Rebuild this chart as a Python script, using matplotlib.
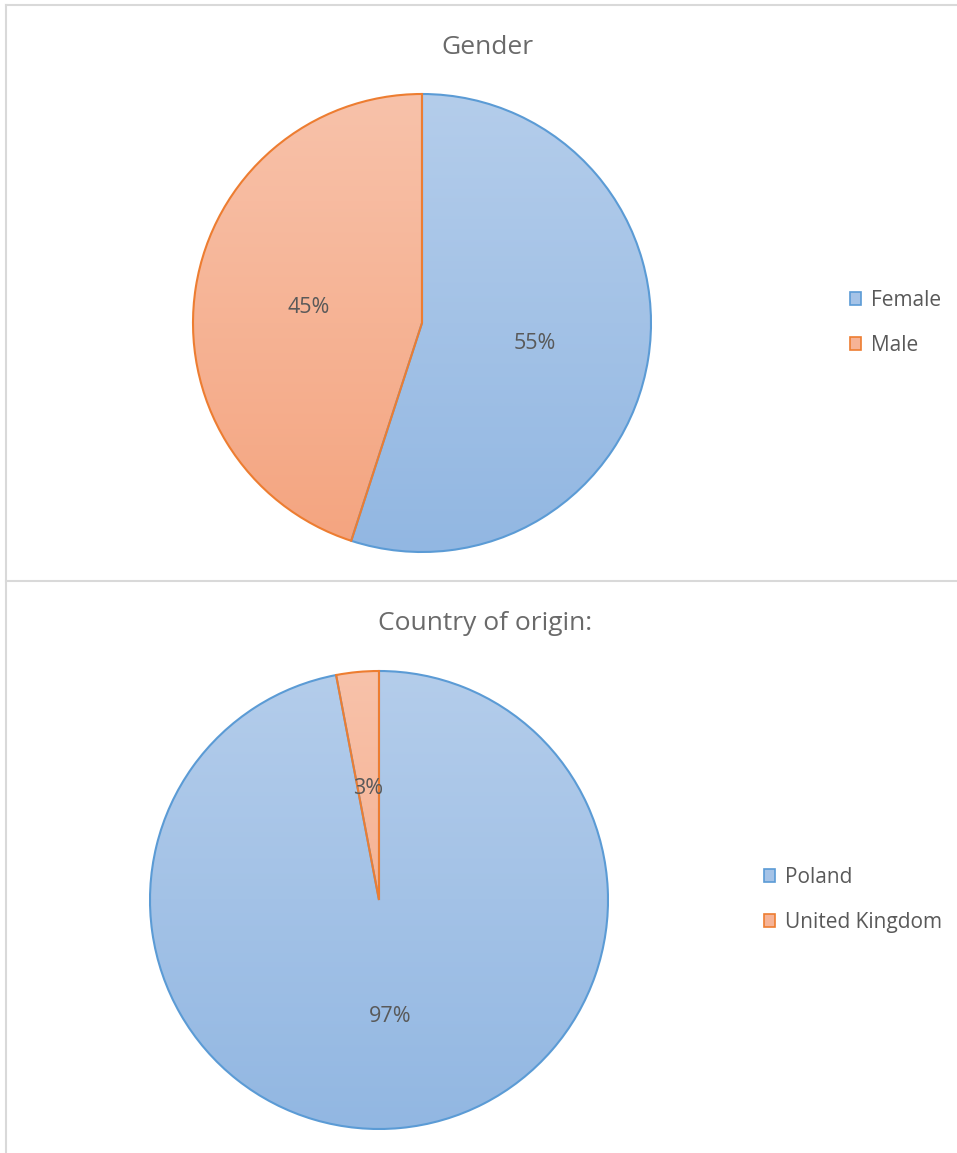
import numpy as np
import matplotlib
matplotlib.use("Agg")
import matplotlib.pyplot as plt
from matplotlib.colors import LinearSegmentedColormap
from matplotlib.lines import Line2D
from matplotlib.patches import Patch

plt.rcParams['font.family'] = ['Open Sans', 'DejaVu Sans']

# survey data
gender_labels = ['Female', 'Male']
gender_values = [55, 45]
country_labels = ['Poland', 'United Kingdom']
country_values = [97, 3]

# fill gradients (top colour, bottom colour) and outline colours
fills = [('#B4CDEB', '#92B7E2'), ('#F8C2AA', '#F4A47F')]
edges = ['#5B9BD5', '#ED7D31']
legend_fill = ['#A5C3E7', '#F6B396']
text_grey = '#595959'

W, H = 957, 1153
fig = plt.figure(figsize=(W / 100, H / 100), dpi=100)


def fx(px):
    return px / W


def fy(py):
    return 1 - py / H


def draw_pie(cx, cy, r, values, title, title_xy, labels, leg_x, leg_y):
    ax = fig.add_axes([fx(cx - r), fy(cy + r), fx(2 * r), 2 * r / H])
    wedges, _, autotexts = ax.pie(values, startangle=90, counterclock=False,
                                  autopct='%1.0f%%', pctdistance=0.5,
                                  radius=1,
                                  wedgeprops=dict(linewidth=1.5, facecolor='none'),
                                  textprops=dict(color=text_grey, fontsize=15.5))
    grad = np.linspace(0, 1, 256).reshape(-1, 1)
    for w, (c0, c1), ec in zip(wedges, fills, edges):
        cmap = LinearSegmentedColormap.from_list('g', [c0, c1])
        im = ax.imshow(grad, cmap=cmap, extent=(-1, 1, -1, 1), origin='upper',
                       aspect='auto', zorder=0.5)
        im.set_clip_path(w)
        w.set_edgecolor(ec)
        w.set_zorder(1)
    for t in autotexts:
        t.set_zorder(3)
        t.set_verticalalignment('center_baseline')
    ax.set_xlim(-1.02, 1.02)
    ax.set_ylim(-1.02, 1.02)
    ax.set_position([fx(cx - r * 1.02), fy(cy + r * 1.02), fx(2.04 * r), 2.04 * r / H])
    ax.axis('off')

    fig.text(fx(title_xy[0]), fy(title_xy[1]), title, ha='center', va='center',
             fontsize=19, color='#6A6A6A')

    handles = [Patch(facecolor=f, edgecolor=e, linewidth=1.2)
               for f, e in zip(legend_fill, edges)]
    fig.legend(handles, labels, loc='center left', bbox_to_anchor=(fx(leg_x), fy(leg_y)),
               frameon=False, fontsize=15, labelcolor=text_grey,
               handlelength=0.55, handleheight=0.55, handletextpad=0.45,
               labelspacing=1.15, borderpad=0, borderaxespad=0)


draw_pie(422, 323, 229, gender_values, 'Gender', (487, 47),
         gender_labels, 850, 323)
draw_pie(379, 900, 229, country_values, 'Country of origin:', (485, 623),
         country_labels, 764, 900)

# chart area borders
border = dict(color='#D9D9D9', linewidth=1.5)
fig.add_artist(Line2D([fx(6), 1], [fy(5), fy(5)], **border))
fig.add_artist(Line2D([fx(6), fx(6)], [fy(5), 0], **border))
fig.add_artist(Line2D([fx(6), 1], [fy(581), fy(581)], **border))

fig.savefig('out.png', dpi=100, facecolor='white')
